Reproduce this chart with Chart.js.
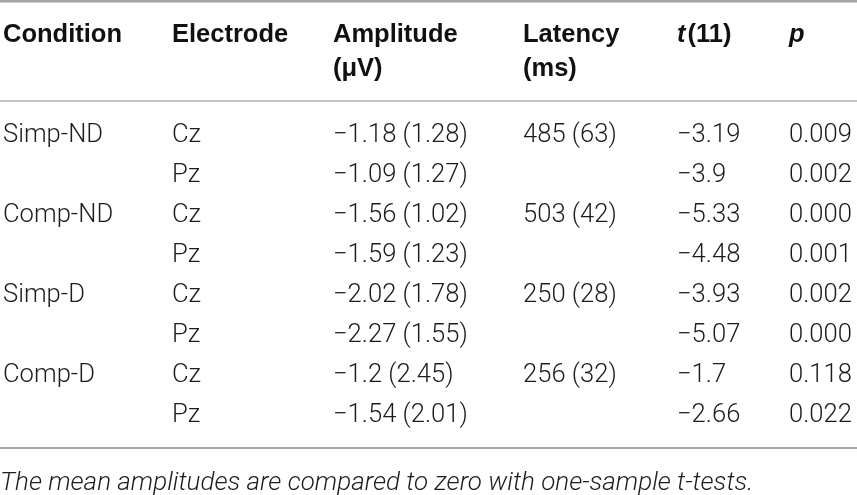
<!DOCTYPE html>
<html>
<head>
<meta charset="utf-8">
<script src="https://cdn.jsdelivr.net/npm/chart.js@4.4.1/dist/chart.umd.min.js"></script>
<style>
html,body{margin:0;padding:0;background:#fff;}
#wrap{width:857px;height:495px;position:relative;}
</style>
</head>
<body>
<div id="wrap"><canvas id="tbl"></canvas></div>
<script>
// table values
var headers=["Condition","Electrode","Amplitude","Latency","t","p"];
var headerUnits=["","","(μV)","(ms)","(11)",""];
var conditions=["Simp-ND","","Comp-ND","","Simp-D","","Comp-D",""];
var electrodes=["Cz","Pz","Cz","Pz","Cz","Pz","Cz","Pz"];
var amplitudes=[-1.18,-1.09,-1.56,-1.59,-2.02,-2.27,-1.2,-1.54];
var amplitudeSD=[1.28,1.27,1.02,1.23,1.78,1.55,2.45,2.01];
var latencies=[485,null,503,null,250,null,256,null];
var latencySD=[63,null,42,null,28,null,32,null];
var tValues=[-3.19,-3.9,-5.33,-4.48,-3.93,-5.07,-1.7,-2.66];
var pValues=[0.009,0.002,0.000,0.001,0.002,0.000,0.118,0.022];
var note="The mean amplitudes are compared to zero with one-sample t-tests.";

// layout (page px)
var colX=[3,172,333,523,677,789];
var headY=[42,76];
var firstRowY=142, rowStep=40;
var ruleY=[1,101,448];
var noteY=490;

function num(v){ return String(v).replace("-","\u2212"); }

var rows=[];
for(var i=0;i<electrodes.length;i++){
  rows.push([
    conditions[i],
    electrodes[i],
    num(amplitudes[i])+" ("+amplitudeSD[i]+")",
    latencies[i]==null?"":latencies[i]+" ("+latencySD[i]+")",
    num(tValues[i]),
    pValues[i].toFixed(3)
  ]);
}

var cells=[];
rows.forEach(function(r,i){
  r.forEach(function(txt,j){
    cells.push({x:colX[j],y:firstRowY+i*rowStep,txt:txt});
  });
});

var BODY="300 25.6px Roboto, 'Liberation Sans', sans-serif";
var BOLD="bold 25.5px 'Liberation Sans', Arial, sans-serif";
var BOLDIT="italic bold 25.5px 'Liberation Sans', Arial, sans-serif";

var tablePlugin={
  id:'tablePlugin',
  afterDatasetsDraw:function(chart){
    var ctx=chart.ctx, xs=chart.scales.x, ys=chart.scales.y;
    ctx.save();
    // rules
    ruleY.forEach(function(y,k){
      ctx.strokeStyle=k==1?'#c4c4c4':'#a4a4a4';
      ctx.lineWidth=k==0?3:2;
      ctx.beginPath();
      ctx.moveTo(xs.getPixelForValue(0),ys.getPixelForValue(y));
      ctx.lineTo(xs.getPixelForValue(857),ys.getPixelForValue(y));
      ctx.stroke();
    });
    ctx.textBaseline='alphabetic';
    ctx.textAlign='left';
    // header
    headers.forEach(function(h,j){
      var x=xs.getPixelForValue(colX[j]);
      ctx.fillStyle='#111';
      if(h=="t"||h=="p"){
        ctx.font=BOLDIT;
        ctx.fillText(h,x,ys.getPixelForValue(headY[0]));
        var w=ctx.measureText(h).width+2;
        ctx.font=BOLD;
        ctx.fillText(headerUnits[j],x+w,ys.getPixelForValue(headY[0]));
      }else{
        ctx.font=BOLD;
        ctx.fillText(h,x,ys.getPixelForValue(headY[0]));
        if(headerUnits[j]) ctx.fillText(headerUnits[j],x,ys.getPixelForValue(headY[1]));
      }
    });
    // body cells, placed from the dataset points
    var meta=chart.getDatasetMeta(0);
    ctx.font=BODY;
    ctx.fillStyle='#1c1c1c';
    meta.data.forEach(function(pt,k){
      ctx.fillText(cells[k].txt,pt.x,pt.y);
    });
    // footnote
    ctx.font="italic 300 26px Roboto, 'Liberation Sans', sans-serif";
    ctx.fillStyle='#1c1c1c';
    ctx.fillText(note,xs.getPixelForValue(0),ys.getPixelForValue(noteY));
    ctx.restore();
  }
};

new Chart(document.getElementById('tbl'),{
  type:'scatter',
  data:{
    datasets:[{
      data:cells.map(function(c){return {x:c.x,y:c.y};}),
      pointRadius:0,
      pointHoverRadius:0
    }]
  },
  options:{
    responsive:true,
    maintainAspectRatio:false,
    animation:false,
    events:[],
    layout:{padding:0},
    plugins:{legend:{display:false},tooltip:{enabled:false}},
    scales:{
      x:{type:'linear',min:0,max:857,display:false},
      y:{type:'linear',min:0,max:495,reverse:true,display:false}
    }
  },
  plugins:[tablePlugin]
});
</script>
</body>
</html>
